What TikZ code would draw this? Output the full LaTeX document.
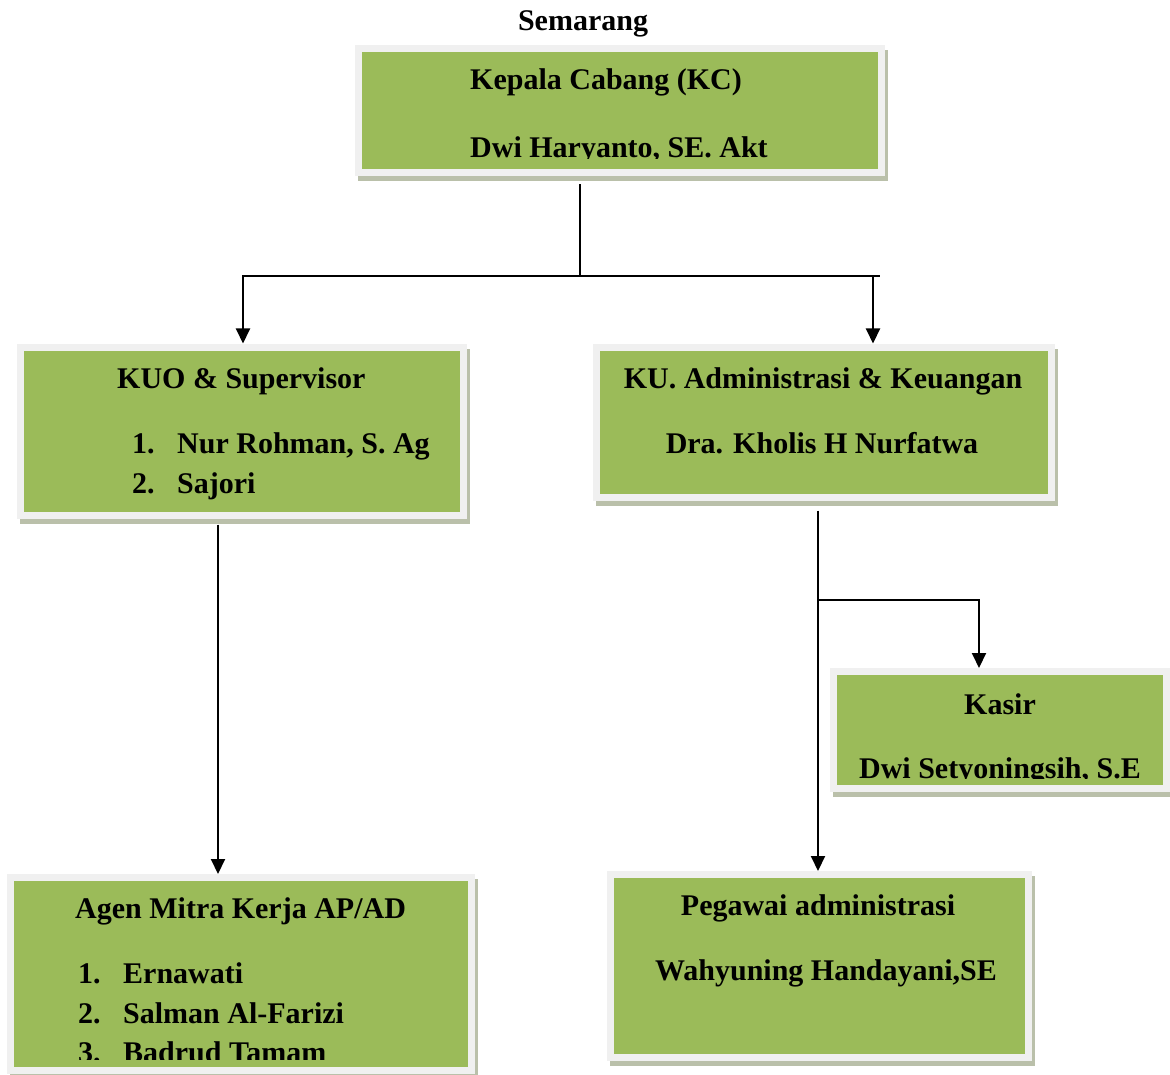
\documentclass[tikz,border=0pt]{standalone}
\usepackage{fontspec}
\setmainfont{Liberation Serif}
\usetikzlibrary{arrows.meta,shadows}
\definecolor{boxgreen}{RGB}{155,187,89}
\definecolor{framegray}{RGB}{240,240,240}
\definecolor{shadowcol}{RGB}{186,192,170}
\begin{document}
\begin{tikzpicture}[x=1pt,y=-1pt,
  obox/.style={rectangle, fill=boxgreen, draw=framegray, line width=7pt, inner sep=0pt,
    general shadow={fill=shadowcol, draw=shadowcol, line width=7pt, shadow xshift=3pt, shadow yshift=-5pt}},
  txt/.style={anchor=base west, inner sep=0pt, font=\fontsize{30}{36}\selectfont\bfseries},
  ctxt/.style={anchor=base, inner sep=0pt, font=\fontsize{30}{36}\selectfont\bfseries},
  arr/.style={line width=2pt, -{Triangle[width=14pt,length=15pt]}},
  conn/.style={line width=2pt}]
\useasboundingbox (0,0) rectangle (1170,1075);
\fill[white] (0,0) rectangle (1170,1075);

% title
\node[ctxt] (title) at (583,31) {Semarang};

% boxes (centres in pixels, sizes = frame outer minus 7)
\node[obox, minimum width=523pt, minimum height=124pt] (kc)   at (620,111) {};
\node[obox, minimum width=443pt, minimum height=168pt] (kuo)  at (242,431) {};
\node[obox, minimum width=455pt, minimum height=150pt] (ku)   at (824,422) {};
\node[obox, minimum width=333pt, minimum height=117pt] (kasir) at (1000,730) {};
\node[obox, minimum width=461pt, minimum height=193pt] (agen) at (241,974) {};
\node[obox, minimum width=418pt, minimum height=183pt] (peg)  at (819.5,966) {};

% texts
\node[txt] (kc1) at (470,90) {Kepala Cabang (KC)};
\begin{scope}
\clip (360,100) rectangle (880,158.5);
\node[txt] (kc2) at (470,158) {Dwi Haryanto, SE. Akt};
\end{scope}

\node[txt] (kuo1) at (117,388) {KUO \& Supervisor};
\node[txt] (kuo2n) at (132,453) {1.};
\node[txt] (kuo2) at (177,453) {Nur Rohman, S. Ag};
\node[txt] (kuo3n) at (132,493) {2.};
\node[txt] (kuo3) at (177,493) {Sajori};

\node[ctxt] (ku1) at (823,388) {KU. Administrasi \& Keuangan};
\node[ctxt] (ku2) at (822,453) {Dra. Kholis H Nurfatwa};

\node[ctxt] (ks1) at (1000,714) {Kasir};
\begin{scope}
\clip (830,720) rectangle (1170,778.5);
\node[ctxt] (ks2) at (1000,778) {Dwi Setyoningsih, S.E};
\end{scope}

\node[txt] (ag1) at (75,918) {Agen Mitra Kerja AP/AD};
\node[txt] (ag2n) at (78,983) {1.};
\node[txt] (ag2) at (123,983) {Ernawati};
\node[txt] (ag3n) at (78,1023) {2.};
\node[txt] (ag3) at (123,1023) {Salman Al-Farizi};
\begin{scope}
\clip (10,1030) rectangle (470,1059);
\node[txt] (ag4n) at (78,1062) {3.};
\node[txt] (ag4) at (123,1062) {Badrud Tamam};
\end{scope}

\node[ctxt] (pg1) at (818,915) {Pegawai administrasi};
\node[ctxt] (pg2) at (826,980) {Wahyuning Handayani,SE};

% connectors
\coordinate (j1) at (580,276);
\coordinate (j1r) at (880,276);
\draw[conn] ([yshift=-8pt]580,0 |- kc.south) -- (j1);
\draw[conn] (j1) -- (j1r);
\draw[arr] (j1) -| (243,0 |- kuo.north);
\draw[arr] (873,276) -- (873,0 |- ku.north);

\draw[arr] ([yshift=-6pt]218,0 |- kuo.south) -- (218,0 |- agen.north);

\coordinate (j2) at (818,600);
\draw[arr] ([yshift=-10pt]818,0 |- ku.south) -- (818,0 |- peg.north);
\draw[arr] (j2) -| (979,0 |- kasir.north);
\end{tikzpicture}
\end{document}
